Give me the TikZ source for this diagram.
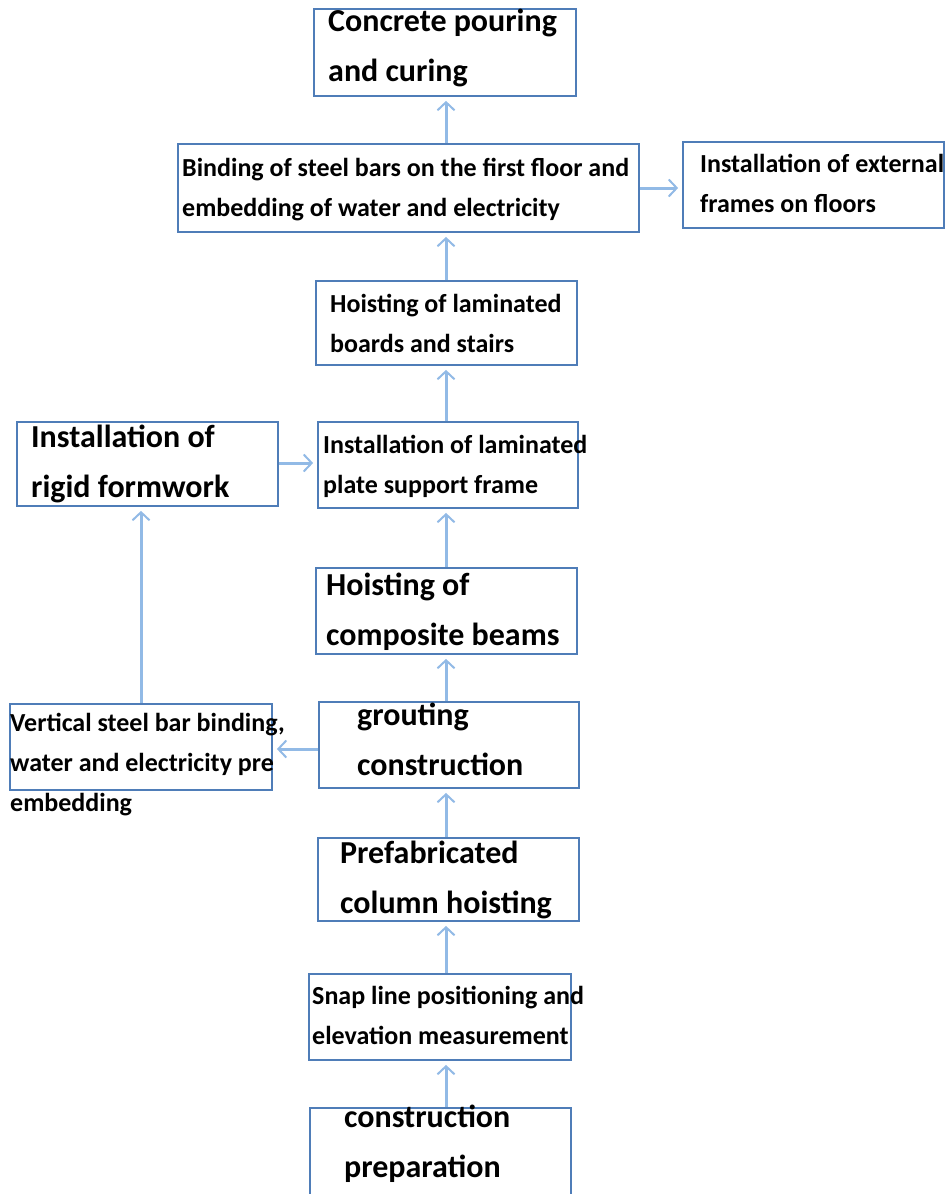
\documentclass[tikz,border=0pt]{standalone}
\usepackage{fontspec}
\setmainfont{Carlito}
\usetikzlibrary{arrows.meta}
\definecolor{boxline}{RGB}{79,125,184}
\definecolor{flowline}{RGB}{146,186,230}
\tikzset{
  box/.style={draw=boxline, line width=1.8pt, inner sep=0pt},
  big/.style={anchor=base west, align=left, inner sep=0pt, font=\fontsize{32}{50}\selectfont\bfseries},
  small/.style={anchor=base west, align=left, inner sep=0pt, font=\fontsize{26}{40}\selectfont\bfseries},
  flow/.style={draw=flowline, line width=3pt, shorten >=4pt, -{Straight Barb[length=8pt,width=17pt,line width=2pt]}}
}
\begin{document}
\begin{tikzpicture}[x=1pt,y=-1pt]
	\useasboundingbox (0,0) rectangle (946,1194);
	\coordinate (mainx) at (446,0);
	% boxes
	\node[box, minimum width=262, minimum height=87] (pour) at (445,52.5) {};
	\node[box, minimum width=461, minimum height=88] (bind) at (408.5,188) {};
	\node[box, minimum width=261, minimum height=86] (frame) at (813.5,185) {};
	\node[box, minimum width=261, minimum height=84] (hoistlam) at (446.5,323) {};
	\node[box, minimum width=261, minimum height=84] (rigid) at (147.5,464) {};
	\node[box, minimum width=260, minimum height=86] (support) at (448,465) {};
	\node[box, minimum width=261, minimum height=86] (beams) at (446.5,611) {};
	\node[box, minimum width=260, minimum height=86] (grout) at (449,745) {};
	\node[box, minimum width=262, minimum height=86] (vert) at (141,747) {};
	\node[box, minimum width=261, minimum height=83] (column) at (448.5,879.5) {};
	\node[box, minimum width=262, minimum height=86] (snap) at (440,1017) {};
	\node[box, minimum width=261, minimum height=92] (prep) at (440.5,1154) {};
	% texts (anchored on the baseline of the last line)
	\node[big] (pourtxt) at (328,81) {Concrete pouring\\and curing};
	\node[small] (bindtxt) at (182,216) {Binding of steel bars on the first floor and\\embedding of water and electricity};
	\node[small] (frametxt) at (700,212) {Installation of external\\frames on floors};
	\node[small] (hoistlamtxt) at (330,352) {Hoisting of laminated\\boards and stairs};
	\node[big] (rigidtxt) at (31,497) {Installation of\\rigid formwork};
	\node[small] (supporttxt) at (323,493) {Installation of laminated\\plate support frame};
	\node[big] (beamstxt) at (326,645) {Hoisting of\\composite beams};
	\node[big] (grouttxt) at (357,775) {grouting\\construction};
	\node[small] (verttxt) at (10,811) {Vertical steel bar binding,\\water and electricity pre\\embedding};
	\node[big] (columntxt) at (340,913) {Prefabricated\\column hoisting};
	\node[small] (snaptxt) at (312,1044) {Snap line positioning and\\elevation measurement};
	\node[big] (preptxt) at (344,1177) {construction\\preparation};
	% arrows
	\draw[flow] (prep.north -| mainx) -- (snap.south -| mainx);
	\draw[flow] (snap.north -| mainx) -- (column.south -| mainx);
	\draw[flow] (column.north -| mainx) -- (grout.south -| mainx);
	\draw[flow] (grout.north -| mainx) -- (beams.south -| mainx);
	\draw[flow] (beams.north -| mainx) -- (support.south -| mainx);
	\draw[flow] (support.north -| mainx) -- (hoistlam.south -| mainx);
	\draw[flow] (hoistlam.north -| mainx) -- (bind.south -| mainx);
	\draw[flow] (bind.north -| mainx) -- (pour.south -| mainx);
	\draw[flow] (bind.east) -- (frame.west |- bind.east);
	\draw[flow] (rigid.east |- 0,463) -- (support.west |- 0,463);
	\draw[flow] (grout.west |- 0,749) -- (vert.east |- 0,749);
	\draw[flow] (vert.north) -- (rigid.south -| vert.north);
\end{tikzpicture}
\end{document}
